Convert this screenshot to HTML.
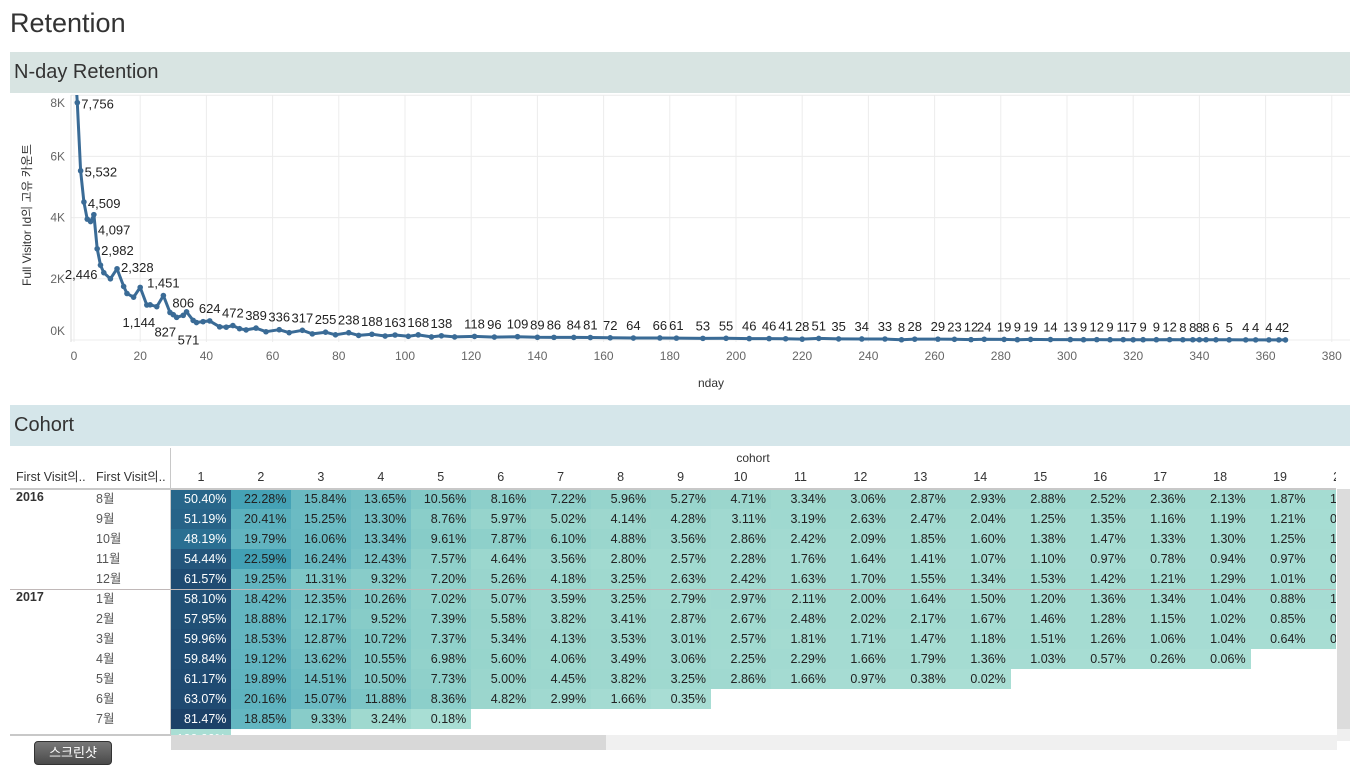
<!DOCTYPE html>
<html><head><meta charset="utf-8">
<style>
body{margin:0;width:1360px;height:760px;overflow:hidden;background:#fff;font-family:"Liberation Sans","Noto Sans CJK KR",sans-serif;position:relative}
.abs{position:absolute}
.bar{position:absolute;left:10px;width:1340px;height:41px;font-size:20px;color:#333;line-height:41px;padding-left:4px;box-sizing:border-box}
</style></head><body>
<div class="abs" style="left:10px;top:8px;font-size:27px;color:#333">Retention</div>
<div class="bar" style="top:52px;background:#d8e4e2">N-day Retention</div>
<div class="bar" style="top:405px;background:#d5e6ea">Cohort</div>

<svg class="abs" style="left:0;top:0" width="1360" height="400" id="chart" font-family="Liberation Sans, Noto Sans CJK KR, sans-serif">
<defs><clipPath id="clip"><rect x="71" y="95" width="1279" height="249"/></clipPath></defs>
</svg>

<div class="abs" id="table" style="left:0;top:446px;width:1360px;height:314px;font-size:12.5px;color:#333"></div>

<div class="abs" style="left:34px;top:741px;width:76px;height:22px;border-radius:4px;background:linear-gradient(#777,#4a4a4a);border:1px solid #333;color:#fff;font-size:13px;text-align:center;line-height:22px">스크린샷</div>

<script>
// ---- N-day data ----
const ndays = [0,1,2,3,4,5,6,7,8,9,11,13,15,16,18,20,22,23,25,27,29,30,31,33,34,36,37,39,41,44,46,48,50,52,55,58,62,65,69,72,76,79,83,86,90,94,97,101,104,108,111,115,121,127,134,140,145,151,156,162,169,177,182,190,197,204,210,215,220,225,231,238,245,250,254,261,266,271,275,281,285,289,295,301,305,309,313,317,320,323,327,331,335,338,340,342,345,349,354,357,361,364,366];
const users = [9500,7756,5532,4509,3950,3870,4097,2982,2446,2200,2000,2328,1750,1520,1400,1720,1144,1150,1090,1451,900,827,740,806,920,640,571,600,624,430,420,472,370,330,389,270,336,240,317,200,255,170,238,150,188,130,163,120,168,100,138,100,118,96,109,89,86,84,81,72,64,66,61,53,55,46,46,41,28,51,35,34,33,8,28,29,23,12,24,19,9,19,14,13,9,12,9,11,7,9,9,12,8,8,8,8,6,5,4,4,4,4,2,1];
const showLabel = [0,1,1,1,0,0,1,1,1,0,0,1,0,0,0,0,1,0,0,1,0,1,0,1,0,0,1,0,1,0,0,1,0,0,1,0,1,0,1,0,1,0,1,0,1,0,1,0,1,0,1,0,1,1,1,1,1,1,1,1,1,1,1,1,1,1,1,1,1,1,1,1,1,1,1,1,1,1,1,1,1,1,1,1,1,1,1,1,1,1,1,1,1,1,1,1,1,1,1,1,1,1,1];
const xTicks = [0,20,40,60,80,100,120,140,160,180,200,220,240,260,280,300,320,340,360,380];
const yTicks = [0,2000,4000,6000,8000];
const yTickLabels = ["0K","2K","4K","6K","8K"];

const NS="http://www.w3.org/2000/svg";
const svg=document.getElementById('chart');
const X=d=>74+d*3.31;
const Y=v=>340-v/1000*30.6;
function mk(tag,attrs,parent){const e=document.createElementNS(NS,tag);for(const k in attrs)e.setAttribute(k,attrs[k]);(parent||svg).appendChild(e);return e;}

xTicks.forEach(t=>{
  const g=mk('line',{x1:X(t),x2:X(t),y1:95,y2:342,stroke:'#ececec'});
  
  
  const tx=mk('text',{x:X(t),y:360,'text-anchor':'middle','font-size':12,fill:'#666'});
  tx.textContent=t;
  
  
});
yTicks.forEach((t,i)=>{
  const g=mk('line',{x1:71,x2:1350,y1:Y(t),y2:Y(t),stroke:'#ececec'});
  
  
  let yy=Y(t)+4; if(i==0) yy=Y(t)-5; if(i==yTicks.length-1) yy=Y(t)+12;
  const tx=mk('text',{x:65,y:yy,'text-anchor':'end','font-size':12,fill:'#666'});
  tx.textContent=yTickLabels[i];
  
  
});
mk('line',{x1:71,x2:71,y1:95,y2:342,stroke:'#ddd'});
const yt=mk('text',{x:0,y:0,'text-anchor':'middle','font-size':12,fill:'#333',transform:'translate(31,215) rotate(-90)'});
yt.textContent='Full Visitor Id의 고유 카운트';


const xt=mk('text',{x:711,y:387,'text-anchor':'middle','font-size':12,fill:'#333'});
xt.textContent='nday';



const g=mk('g',{'clip-path':'url(#clip)'});
const path=mk('path',{d:ndays.map((d,i)=>(i?'L':'M')+X(d).toFixed(1)+','+Y(users[i]).toFixed(1)).join(''),fill:'none',stroke:'#3a6b96','stroke-width':3,'stroke-linejoin':'round'},g);


ndays.forEach((d,i)=>{
  const c=mk('circle',{cx:X(d),cy:Y(users[i]),r:2.8,fill:'#3a6b96'},g);
  
  
  if(!showLabel[i])return;
  let x=X(d),y=Y(users[i])-8,anchor='middle';
  if(d<=7){x+=4;y=Y(users[i])+6;anchor='start';if(d==6)y+=14;}
  else if(d==8){x-=3;y=Y(users[i])+14;anchor='end';}
  else if(d==13){x+=4;y=Y(users[i])+3;anchor='start';}
  else if(d==22||d==30||d==37){y=Y(users[i])+22;x-=8;}
  const t=mk('text',{x:x,y:y,'text-anchor':anchor,'font-size':13,fill:'#222'});
  t.textContent=users[i].toLocaleString('en-US');
  
  
});

// ---- Cohort data ----
const years=["2016","","","","","2017","","","","","",""];
const months=["8월","9월","10월","11월","12월","1월","2월","3월","4월","5월","6월","7월"];
const r0=[50.40,22.28,15.84,13.65,10.56,8.16,7.22,5.96,5.27,4.71,3.34,3.06,2.87,2.93,2.88,2.52,2.36,2.13,1.87,1.50];
const r1=[51.19,20.41,15.25,13.30,8.76,5.97,5.02,4.14,4.28,3.11,3.19,2.63,2.47,2.04,1.25,1.35,1.16,1.19,1.21,0.90];
const r2=[48.19,19.79,16.06,13.34,9.61,7.87,6.10,4.88,3.56,2.86,2.42,2.09,1.85,1.60,1.38,1.47,1.33,1.30,1.25,1.10];
const r3=[54.44,22.59,16.24,12.43,7.57,4.64,3.56,2.80,2.57,2.28,1.76,1.64,1.41,1.07,1.10,0.97,0.78,0.94,0.97,0.80];
const r4=[61.57,19.25,11.31,9.32,7.20,5.26,4.18,3.25,2.63,2.42,1.63,1.70,1.55,1.34,1.53,1.42,1.21,1.29,1.01,0.90];
const r5=[58.10,18.42,12.35,10.26,7.02,5.07,3.59,3.25,2.79,2.97,2.11,2.00,1.64,1.50,1.20,1.36,1.34,1.04,0.88,1.00];
const r6=[57.95,18.88,12.17,9.52,7.39,5.58,3.82,3.41,2.87,2.67,2.48,2.02,2.17,1.67,1.46,1.28,1.15,1.02,0.85,0.70];
const r7=[59.96,18.53,12.87,10.72,7.37,5.34,4.13,3.53,3.01,2.57,1.81,1.71,1.47,1.18,1.51,1.26,1.06,1.04,0.64,0.50];
const r8=[59.84,19.12,13.62,10.55,6.98,5.60,4.06,3.49,3.06,2.25,2.29,1.66,1.79,1.36,1.03,0.57,0.26,0.06];
const r9=[61.17,19.89,14.51,10.50,7.73,5.00,4.45,3.82,3.25,2.86,1.66,0.97,0.38,0.02];
const r10=[63.07,20.16,15.07,11.88,8.36,4.82,2.99,1.66,0.35];
const r11=[81.47,18.85,9.33,3.24,0.18];
const rows=[r0,r1,r2,r3,r4,r5,r6,r7,r8,r9,r10,r11];

const stops=[[0,[169,222,212]],[5,[154,214,205]],[10,[133,203,200]],[15,[108,187,195]],[20,[96,180,192]],[22.5,[66,160,181]],[48,[42,112,147]],[55,[35,84,122]],[62,[31,74,113]],[82,[28,65,104]]];
function col(v){for(let i=1;i<stops.length;i++){if(v<=stops[i][0]){const a=stops[i-1],b=stops[i],t=(v-a[0])/(b[0]-a[0]);return 'rgb('+a[1].map((c,k)=>Math.round(c+(b[1][k]-c)*t)).join(',')+')';}}return 'rgb(28,65,104)';}

const T=document.getElementById('table');
function div(style,text,name,inter,parent){const d=document.createElement('div');d.style.cssText='position:absolute;'+style;if(text!=null)d.textContent=text;(parent||T).appendChild(d);return d;}
const CW=59.95, CX=171, RY=43, RH=20;
const clipDiv=div('left:171px;top:0;width:1165px;height:289px;overflow:hidden','', 'heatmap-viewport','false');
div('left:'+(753-171)+'px;top:5px;transform:translateX(-50%);font-size:12px;line-height:14px','cohort','column-header-title','false',clipDiv);
for(let k=0;k<20;k++){
  div('left:'+(k*CW)+'px;top:23px;width:'+CW+'px;text-align:center;font-size:12.5px;line-height:16px',String(k+1),'column-header','false',clipDiv);
}
rows.forEach((r,ri)=>{
  r.forEach((v,ci)=>{
    div('left:'+(ci*CW)+'px;top:'+(RY+ri*RH)+'px;width:'+(CW+0.5)+'px;height:'+RH+'px;line-height:'+RH+'px;background:'+col(v)+';text-align:right;padding-right:5px;box-sizing:border-box;color:'+(v>40?'#fff':'#222'),v.toFixed(2)+'%','heatmap-cell','true',clipDiv);
  });
});
div('left:0;top:'+(RY+12*RH)+'px;width:'+(CW)+'px;height:10px;background:#a9ded4;overflow:hidden;line-height:20px;color:#fff;text-align:right;padding-right:5px;box-sizing:border-box','100.00%','heatmap-cell-partial','false',clipDiv);
div('left:16px;top:23px;font-size:12.5px;line-height:16px','First Visit의..','row-header-year','false');
div('left:96px;top:23px;font-size:12.5px;line-height:16px','First Visit의..','row-header-month','false');
div('left:10px;top:42px;width:1326px;height:0;border-top:2px solid #c8c8c8','', 'header-divider','false');
div('left:10px;top:143px;width:1326px;height:0;border-top:1px solid #c0b8b8','', 'year-divider','false');
div('left:10px;top:288px;width:161px;height:0;border-top:2px solid #c8c8c8','', 'bottom-divider','false');
div('left:170px;top:2px;width:0;height:287px;border-left:1px solid #c8c8c8','', 'pane-divider','false');
rows.forEach((r,ri)=>{
  if(years[ri])div('left:16px;top:'+(RY+ri*RH-2)+'px;line-height:20px;font-weight:bold;color:#333',years[ri],'year-label','false');
  div('left:96px;top:'+(RY+ri*RH)+'px;line-height:20px;color:#555',months[ri],'month-label','false');
});
div('left:171px;top:289px;width:1166px;height:15px;background:#f0f0f0','', 'h-scrollbar-track','true');
div('left:171px;top:289px;width:435px;height:15px;background:#d8d8d8','', 'h-scrollbar-thumb','true');
div('left:1337px;top:43px;width:13px;height:240px;background:#dcdcdc','', 'v-scrollbar','true');
div('left:1337px;top:283px;width:13px;height:12px;background:#efefef','', 'v-scrollbar-end','false');
</script>
</body></html>
